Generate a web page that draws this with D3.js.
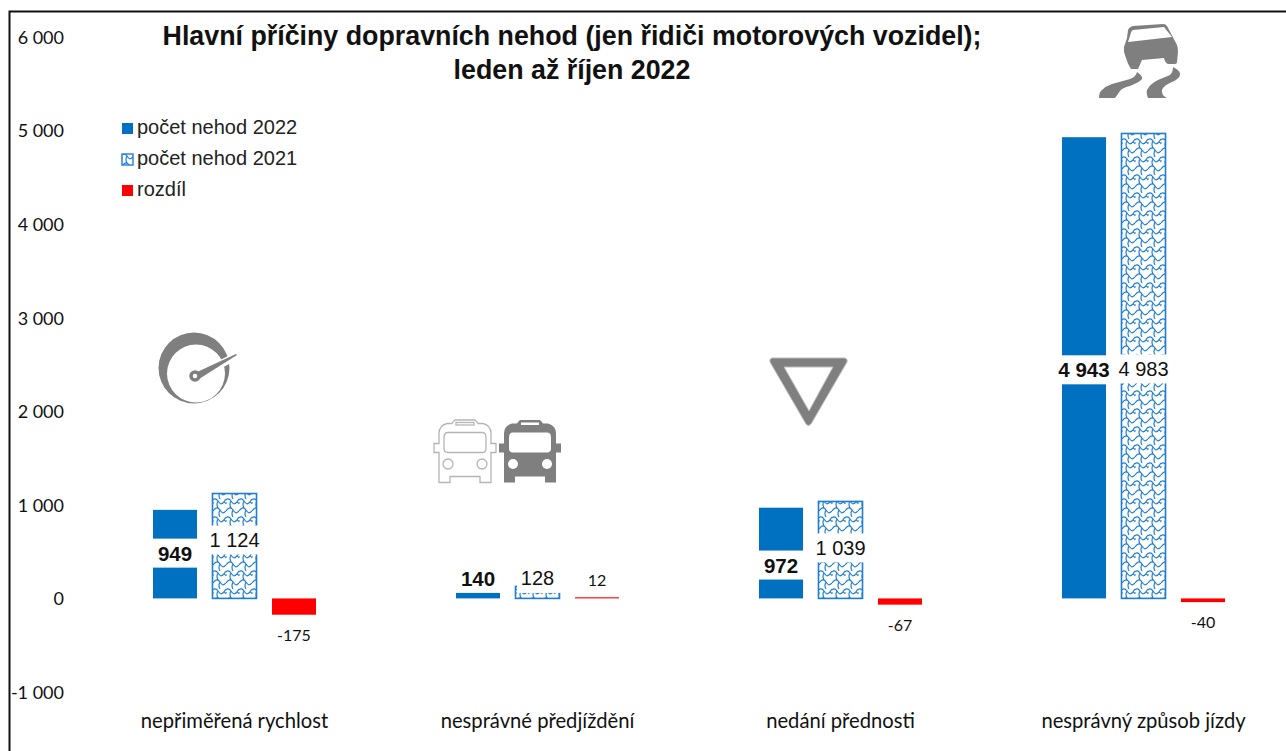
<!DOCTYPE html>
<html><head><meta charset="utf-8">
<script src="https://cdn.jsdelivr.net/npm/d3@7/dist/d3.min.js"></script>
<style>html,body{margin:0;padding:0;background:#fff}svg{display:block}</style>
</head><body><svg id="c" width="1286" height="751"></svg>
<script>
const categories = ["nepřiměřená rychlost","nesprávné předjíždění","nedání přednosti","nesprávný způsob jízdy"];
const series = ["počet nehod 2022","počet nehod 2021","rozdíl"];
const values2022 = [949,140,972,4943];
const values2021 = [1124,128,1039,4983];
const valuesDiff = [-175,12,-67,-40];
const yTicks = [-1000,0,1000,2000,3000,4000,5000,6000];
const titleLines = ["Hlavní příčiny dopravních nehod (jen řidiči motorových vozidel);","leden až říjen 2022"];

const BLUE="#0070c0", LINE="#1f7ed4", RED="#ff0000", GREY="#7f7f7f";
const svg=d3.select("#c");
const defs=svg.append("defs");
const pat=defs.append("pattern").attr("id","wave").attr("patternUnits","userSpaceOnUse")
  .attr("width",13).attr("height",18).attr("patternTransform","translate(0,3)");
pat.append("rect").attr("width",13).attr("height",18).attr("fill","#fff");
pat.append("path").attr("d","M0 4 C3 0 5 0 7 3 S10 7 13 4 M7 3 Q5 7 7 10 M-2 13 C1 9 3 9 5 12 S8 16 11 13 C13 9 15 9 17 12 M5 12 Q3 15 5 19 M11 13 Q13 14 14 16 M5 -6 Q3 -3 5 1 M1 14 L0 14")
  .attr("fill","none").attr("stroke",LINE).attr("stroke-width",1.2);

const y=d3.scaleLinear().domain([-1000,6000]).range([691.7,38.6]);
const x=d3.scaleBand().domain(categories).range([83,1295]);
const sx=d3.scaleBand().domain(series).range([70,233]).paddingInner(0.26);

// frame
svg.append("path").attr("d","M9.5 751V11.5H1286").attr("fill","none").attr("stroke","#111").attr("stroke-width",2);

const fmt=v=>d3.format(",")(v).replace(",", " ").replace("−","-");

// y axis (tick labels sit on a slightly wider span than the bars in the original)
const yLabels=y.copy().range([692.6,37.6]);
const gy=svg.append("g").attr("transform","translate(64,0)")
 .call(d3.axisLeft(yLabels).tickValues(yTicks).tickSize(0).tickPadding(0).tickFormat(fmt));
gy.select(".domain").remove();
gy.selectAll("text").attr("font-family","Lato").attr("font-size",18).attr("fill","#111");

// x axis labels
const gx=svg.append("g").attr("transform","translate(0,718)")
 .call(d3.axisBottom(x).tickSize(0).tickPadding(0));
gx.select(".domain").remove();
gx.selectAll("text").attr("font-family","Lato").attr("font-size",20.2).attr("fill","#111").attr("dy","0.5em");

// bars
const rows=categories.map((c,i)=>({c,i,v:[values2022[i],values2021[i],valuesDiff[i]]}));
const fills=[BLUE,"url(#wave)",RED];
const groups=svg.selectAll("g.cat").data(rows).join("g").attr("class","cat")
 .attr("transform",d=>`translate(${x(d.c)},0)`);
groups.selectAll("rect").data(d=>d.v.map((v,j)=>({v,j,s:series[j],i:d.i}))).join("rect")
 .attr("x",d=>sx(d.s)).attr("width",sx.bandwidth())
 .attr("y",d=>Math.min(y(d.v),y(0))).attr("height",d=>Math.abs(y(d.v)-y(0)))
 .attr("fill",d=>fills[d.j])
 .attr("stroke",d=>d.j==1?LINE:"none").attr("stroke-width",d=>d.j==1?1.6:0);

// data labels (manually placed in the original, hence per-point centre offsets from the bar's middle)
const labelShift=[[-1,-6,0],[0,0,0],[12,-2,0],[2,3,0]];
groups.each(function(d){
  const g=d3.select(this);
  d.v.forEach((v,j)=>{
    const cx=sx(series[j])+sx.bandwidth()/2;
    let cy, box=null;
    if(d.i==1){
      cy=y(0)-(j==2?19:20);
      if(j<2) box=j==1?[cx-20.5,cx+24]:[cx-24,cx+24];
    }
    else if(j==2){ cy=y(v)+19.5; }
    else { cy=(y(v)+y(0))/2+labelShift[d.i][j]; box=[cx-24,cx+24]; }
    if(box) g.append("rect").attr("x",box[0]).attr("y",cy-14.5).attr("width",box[1]-box[0]).attr("height",29).attr("fill","#fff");
    g.append("text").attr("x",cx).attr("y",cy).attr("text-anchor","middle").attr("dominant-baseline","central")
      .attr("font-family",j==2?"Lato":"Liberation Sans").attr("font-weight",j==0?"bold":"normal")
      .attr("font-size",j==2?16:j==0?20.5:20).attr("fill","#111").text(fmt(v));
  });
});

// title
svg.append("g").selectAll("text").data(titleLines).join("text")
 .attr("x",572).attr("y",(d,i)=>44.5+i*34).attr("text-anchor","middle")
 .attr("font-family","Liberation Sans").attr("font-weight","bold").attr("font-size",26.8).attr("fill","#111").text(d=>d);

// legend
const leg=svg.append("g").selectAll("g").data(series).join("g").attr("transform",(d,i)=>`translate(122,${128+i*31})`);
leg.append("rect").attr("x",0).attr("y",-5).attr("width",11).attr("height",11)
 .attr("fill",(d,i)=>fills[i]).attr("stroke",(d,i)=>i==1?LINE:"none").attr("stroke-width",1.4);
leg.append("text").attr("x",15).attr("y",-1).attr("dominant-baseline","central").attr("font-family","Liberation Sans")
 .attr("font-size",20).attr("fill","#222").text(d=>d);

// icons
const ic=svg.append("g");
// speedometer
ic.append("circle").attr("cx",194).attr("cy",368).attr("r",35.5).attr("fill",GREY);
ic.append("circle").attr("cx",196).attr("cy",373.5).attr("r",29).attr("fill","#fff");
ic.append("path").attr("fill","#fff").attr("d","M196 372 L240 350 L240 358 L200 380 Z");
ic.append("path").attr("fill",GREY).attr("d","M197 372 L236 354 L237 355 L199 379 Z");
ic.append("circle").attr("cx",195).attr("cy",376).attr("r",4).attr("fill","#fff").attr("stroke",GREY).attr("stroke-width",3.5);
// buses
function bus(gx,filled){
  const p="M-10 -31.5 H10 Q12 -30 13 -28 H18 Q26 -26 26 -18 V-8 H31 V1 H26 V31 H15 V25 H-15 V31 H-26 V1 H-31 V-8 H-26 V-18 Q-26 -26 -18 -28 H-13 Q-12 -30 -10 -31.5 Z";
  const win="M-17 -19 H17 Q21 -19 21 -14 V-3 Q21 1 17 1 H-17 Q-21 1 -21 -3 V-14 Q-21 -19 -17 -19 Z";
  const g=ic.append("g").attr("transform",`translate(${gx},451.5)`);
  const st=filled?{fill:"#fff"}:{fill:"none",stroke:"#b5b5b5","stroke-width":1.3};
  const a=sel=>{Object.entries(st).forEach(([k,v])=>sel.attr(k,v));return sel;};
  if(filled) g.append("path").attr("d",p).attr("fill",GREY); else a(g.append("path").attr("d",p));
  a(g.append("path").attr("d",win));
  a(g.append("rect").attr("x",-9).attr("y",-29).attr("width",18).attr("height",2.5));
  a(g.append("circle").attr("cx",-17).attr("cy",12.5).attr("r",5));
  a(g.append("circle").attr("cx",17).attr("cy",12.5).attr("r",5));
}
bus(465,false); bus(530,true);
// yield sign
ic.append("path").attr("fill",GREY).attr("fill-rule","evenodd").attr("stroke","#bbb").attr("stroke-width",1).attr("stroke-linejoin","round")
 .attr("d","M772 358 H845 Q848 359 847 362 L811 424 Q808 427 806 424 L770 362 Q769 359 772 358 Z M784 367 L809 411 L833 367 Z");
// skid car
ic.append("path").attr("fill",GREY).attr("fill-rule","evenodd")
 .attr("d","M1128 30 Q1129 27 1133 26 L1163 24 Q1166 24 1167 26 L1177 45 Q1178 48 1178 52 L1177 62 Q1177 64 1175 64 H1168 Q1165 63 1164 58 L1142 60 L1138 69 H1131 Q1128 65 1126 58 L1124 52 V47 L1127 38 Z M1128 42 L1172 37 L1164 27 L1133 30 Q1131 31 1130 36 Z");
ic.append("path").attr("fill",GREY)
 .attr("d","M1137 72 Q1143 76 1142 79 Q1140 82 1130 86 Q1122 88 1120 91 L1115 98 H1099 Q1099 92 1102 90 Q1106 86 1112 84 L1130 79 Q1136 77 1137 72 Z");
ic.append("path").attr("fill",GREY)
 .attr("d","M1173 67 Q1181 71 1180 75 Q1179 79 1172 82 Q1164 85 1162 90 Q1161 95 1167 98 H1148 Q1146 93 1147 90 Q1150 84 1158 80 L1170 75 Q1173 72 1173 67 Z");
</script></body></html>
